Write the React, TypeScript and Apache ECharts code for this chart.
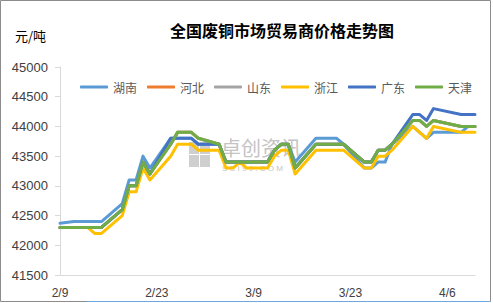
import React, { useEffect, useRef } from "react";
import * as echarts from "echarts";

const title = "全国废铜市场贸易商价格走势图";
const unitLabel = "元/吨";
const seriesNames = ["湖南", "河北", "山东", "浙江", "广东", "天津"];
const colors = ["#5B9BD5", "#ED7D31", "#A5A5A5", "#FFC000", "#4472C4", "#70AD47"];

// 2019 dates (month/day)
const dates = [
  "2/9", "2/11", "2/12", "2/13", "2/14", "2/15",
  "2/18", "2/19", "2/20", "2/21", "2/22",
  "2/25", "2/26", "2/27", "2/28", "3/1",
  "3/4", "3/5", "3/6", "3/7", "3/8",
  "3/11", "3/12", "3/13", "3/14", "3/15",
  "3/18", "3/19", "3/20", "3/21", "3/22",
  "3/25", "3/26", "3/27", "3/28", "3/29",
  "4/1", "4/2", "4/3", "4/4",
  "4/8", "4/9", "4/10",
];

const hunan = [
  42370, 42400, 42400, 42400, 42400, 42400,
  42700, 43100, 43100, 43500, 43300,
  43800, 43800, 43800, 43800, 43700,
  43700, 43400, 43400, 43400, 43400,
  43400, 43600, 43700, 43700, 43400,
  43800, 43800, 43800, 43800, 43700,
  43300, 43300, 43400, 43400, 43700,
  44000, 43900, 43800, 43900,
  43900, 44000, 44000,
];

const tianjin = [
  42300, 42300, 42300, 42300, 42300, 42300,
  42600, 43000, 43000, 43400, 43200,
  43700, 43900, 43900, 43900, 43800,
  43700, 43400, 43400, 43400, 43400,
  43400, 43600, 43700, 43700, 43300,
  43700, 43700, 43700, 43700, 43700,
  43400, 43400, 43600, 43600, 43700,
  44100, 44100, 44000, 44100,
  44000, 44000, 44000,
];

const hebei = tianjin.slice();
const shandong = tianjin.slice();

const zhejiang = [
  42300, 42300, 42300, 42300, 42200, 42200,
  42500, 42900, 42900, 43300, 43100,
  43500, 43700, 43700, 43700, 43600,
  43600, 43300, 43300, 43400, 43300,
  43300, 43500, 43600, 43600, 43200,
  43600, 43600, 43600, 43600, 43600,
  43300, 43300, 43500, 43500, 43600,
  44000, 43900, 43800, 44000,
  43900, 43900, 43900,
];

const guangdong = [
  42300, 42300, 42300, 42300, 42300, 42300,
  42600, 43000, 43000, 43400, 43200,
  43800, 43800, 43800, 43800, 43700,
  43700, 43400, 43400, 43400, 43400,
  43400, 43600, 43700, 43700, 43300,
  43700, 43700, 43700, 43700, 43700,
  43400, 43400, 43600, 43600, 43700,
  44200, 44200, 44100, 44300,
  44200, 44200, 44200,
];

const seriesValues = [hunan, hebei, shandong, zhejiang, guangdong, tianjin];

const yMin = 41500;
const yMax = 45000;
const yStep = 500;
const xStepDays = 14;
const xMaxDays = 60;

const START = Date.UTC(2019, 1, 9);
const DAY = 86400000;
function dayOffset(s: string): number {
  const [m, d] = s.split("/").map(Number);
  return Math.round((Date.UTC(2019, m - 1, d) - START) / DAY);
}
function dayLabel(v: number): string {
  const dt = new Date(START + v * DAY);
  return `${dt.getUTCMonth() + 1}/${dt.getUTCDate()}`;
}

export default function App() {
  const ref = useRef<HTMLDivElement>(null);
  useEffect(() => {
    if (!ref.current) return;
    const chart = echarts.init(ref.current, undefined, { renderer: "svg" });
    const font = "'Liberation Sans', Arial, sans-serif";
    const cjk = "'Noto Sans CJK SC', sans-serif";
    const xs = dates.map(dayOffset);
    chart.setOption({
      animation: false,
      backgroundColor: "#ffffff",
      title: {
        text: title,
        left: 165,
        top: 17,
        textStyle: { fontSize: 16, fontWeight: "bold", color: "#000000", fontFamily: cjk },
      },
      legend: {
        data: seriesNames,
        left: 75,
        top: 76,
        itemWidth: 28,
        itemHeight: 3,
        itemGap: 10,
        icon: "roundRect",
        textStyle: { fontSize: 12, color: "#595959", fontFamily: cjk },
      },
      grid: { left: 60, right: 18, top: 67, bottom: 28, containLabel: false },
      xAxis: {
        type: "value",
        min: 0,
        max: xMaxDays,
        interval: xStepDays,
        axisLine: { show: true, lineStyle: { color: "#d9d9d9", width: 1 } },
        axisTick: { show: false },
        splitLine: { show: false },
        axisLabel: {
          formatter: (v: number) => dayLabel(v),
          showMaxLabel: false,
          fontSize: 12,
          color: "#404040",
          fontFamily: font,
          margin: 12,
        },
      },
      yAxis: {
        type: "value",
        min: yMin,
        max: yMax,
        interval: yStep,
        axisLine: { show: true, lineStyle: { color: "#d9d9d9", width: 1 } },
        axisTick: { show: true, length: 5, lineStyle: { color: "#d9d9d9" } },
        splitLine: { show: false },
        axisLabel: {
          formatter: (v: number) => String(v),
          fontSize: 13,
          color: "#404040",
          fontFamily: font,
          margin: 12,
        },
      },
      graphic: [
        {
          type: "rect",
          shape: { x: 0.5, y: 0.5, width: 490, height: 301 },
          style: { fill: "none", stroke: "#8c8c8c", lineWidth: 1 },
          silent: true,
        },
        {
          type: "line",
          shape: { x1: 87, y1: 301.5, x2: 490, y2: 301.5 },
          style: { stroke: "#6fa8dc", lineWidth: 1 },
          silent: true,
        },
        {
          type: "text",
          left: 15,
          top: 29,
          style: { text: unitLabel, fontSize: 13, fill: "#000000", fontFamily: cjk },
        },
        { type: "rect", shape: { x: 189, y: 142, width: 10, height: 12 }, style: { fill: "#cfcfcf" }, z: 0 },
        { type: "rect", shape: { x: 200, y: 142, width: 10, height: 12 }, style: { fill: "#cfcfcf" }, z: 0 },
        { type: "rect", shape: { x: 189, y: 155, width: 10, height: 12 }, style: { fill: "#cfcfcf" }, z: 0 },
        { type: "rect", shape: { x: 200, y: 155, width: 10, height: 12 }, style: { fill: "#cfcfcf" }, z: 0 },
        {
          type: "text",
          left: 221,
          top: 137,
          z: 0,
          style: { text: "卓创资讯", fontSize: 20, fill: "#c4c4c4", fontFamily: cjk },
        },
        {
          type: "text",
          left: 222,
          top: 164,
          z: 0,
          style: { text: "S C I 9 9 . C O M", fontSize: 8, fill: "#c4c4c4", fontFamily: font },
        },
      ],
      series: seriesNames.map((name, i) => ({
        name,
        type: "line",
        data: xs.map((x, k) => [x, seriesValues[i][k]]),
        showSymbol: false,
        symbol: "none",
        lineStyle: { width: 3, color: colors[i], cap: "round", join: "round" },
        itemStyle: { color: colors[i] },
        z: 3 + i,
      })),
    });
    return () => chart.dispose();
  }, []);
  return (
    <div
      ref={ref}
      style={{ position: "absolute", left: 0, top: 0, width: 493, height: 303, background: "#fff" }}
    />
  );
}
